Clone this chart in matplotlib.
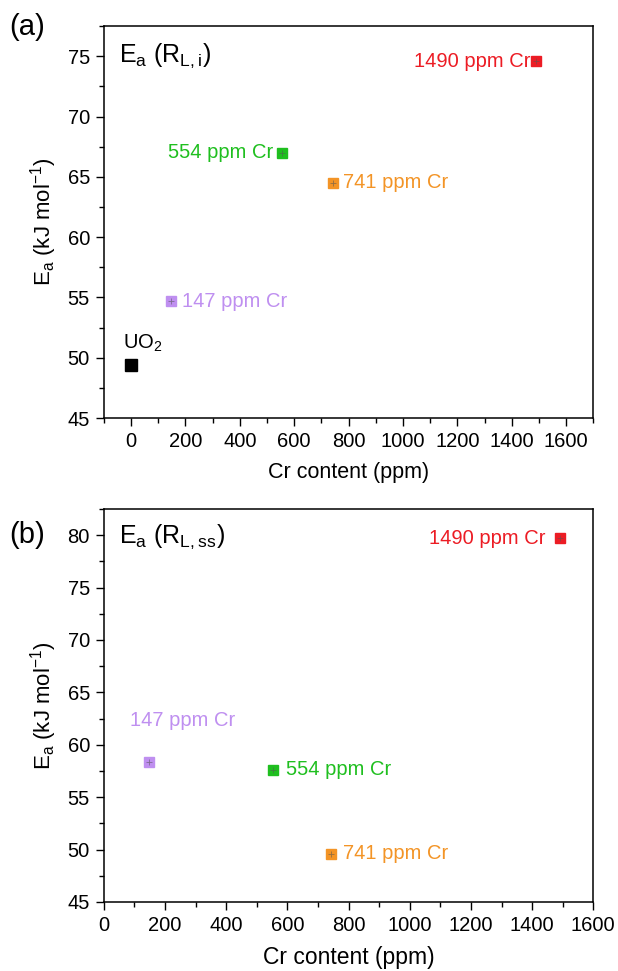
import matplotlib.pyplot as plt
from matplotlib.ticker import MultipleLocator

plt.rcParams['font.family'] = ['Liberation Sans', 'DejaVu Sans']
plt.rcParams['mathtext.default'] = 'regular'

# datos panel (a): Ea (R_L,i)
cr_a = [0, 147, 554, 741, 1490]
ea_a = [49.4, 54.7, 67.0, 64.5, 74.6]
etiquetas_a = ['UO$_2$', '147 ppm Cr', '554 ppm Cr', '741 ppm Cr', '1490 ppm Cr']

# datos panel (b): Ea (R_L,ss)
cr_b = [147, 554, 741, 1490]
ea_b = [58.4, 57.6, 49.6, 79.7]
etiquetas_b = ['147 ppm Cr', '554 ppm Cr', '741 ppm Cr', '1490 ppm Cr']

colores = {0: 'black', 147: '#bf8ff0', 554: '#1fbf1f', 741: '#f39426', 1490: '#ec1c24'}

fig = plt.figure(figsize=(6.18, 9.71), dpi=100)
ax_a = fig.add_axes([0.168, 0.5695, 0.792, 0.4035])
ax_b = fig.add_axes([0.168, 0.0711, 0.792, 0.4047])


def puntos(ax, xs, ys):
    for x, y in zip(xs, ys):
        c = colores[x]
        tam = 9 if x == 0 else 7
        ax.plot(x, y, 's', color=c, ms=tam, zorder=3)
        if x != 0:
            # pequena barra de error dentro del marcador
            ax.plot(x, y, '+', color='#555555', ms=5, mew=0.6, alpha=0.6, zorder=4)


puntos(ax_a, cr_a, ea_a)
puntos(ax_b, cr_b, ea_b)

fs = 14.5
# anotaciones panel (a)
ax_a.text(cr_a[0] - 30, ea_a[0] + 0.9, etiquetas_a[0], color='black', fontsize=fs, ha='left', va='bottom')
ax_a.text(cr_a[1] + 40, ea_a[1], etiquetas_a[1], color=colores[147], fontsize=fs, ha='left', va='center')
ax_a.text(cr_a[2] - 30, ea_a[2], etiquetas_a[2], color=colores[554], fontsize=fs, ha='right', va='center')
ax_a.text(cr_a[3] + 40, ea_a[3], etiquetas_a[3], color=colores[741], fontsize=fs, ha='left', va='center')
ax_a.text(cr_a[4] - 20, ea_a[4], etiquetas_a[4], color=colores[1490], fontsize=fs, ha='right', va='center')

# anotaciones panel (b)
ax_b.text(cr_b[0] - 62, ea_b[0] + 3.9, etiquetas_b[0], color=colores[147], fontsize=fs, ha='left', va='center')
ax_b.text(cr_b[1] + 40, ea_b[1], etiquetas_b[1], color=colores[554], fontsize=fs, ha='left', va='center')
ax_b.text(cr_b[2] + 40, ea_b[2], etiquetas_b[2], color=colores[741], fontsize=fs, ha='left', va='center')
ax_b.text(cr_b[3] - 45, ea_b[3], etiquetas_b[3], color=colores[1490], fontsize=fs, ha='right', va='center')

ax_a.text(0.03, 0.96, 'E$_a$ (R$_{L,i}$)', transform=ax_a.transAxes, fontsize=18, ha='left', va='top')
ax_b.text(0.03, 0.965, 'E$_a$ (R$_{L,ss}$)', transform=ax_b.transAxes, fontsize=18, ha='left', va='top')

ax_a.set_xlim(-100, 1700)
ax_a.set_ylim(45, 77.5)
ax_b.set_xlim(0, 1600)
ax_b.set_ylim(45, 82.5)

for ax, fx in ((ax_a, 15.5), (ax_b, 16.5)):
    ax.xaxis.set_major_locator(MultipleLocator(200))
    ax.xaxis.set_minor_locator(MultipleLocator(100))
    ax.yaxis.set_major_locator(MultipleLocator(5))
    ax.yaxis.set_minor_locator(MultipleLocator(2.5))
    ax.tick_params(which='major', direction='out', length=6, width=1, labelsize=14.5, pad=4)
    ax.tick_params(which='minor', direction='out', length=3.5, width=1)
    for s in ax.spines.values():
        s.set_linewidth(1.1)
    ax.set_xlabel('Cr content (ppm)', fontsize=fx, labelpad=8)
    ax.set_ylabel('E$_a$ (kJ mol$^{-1}$)', fontsize=16, labelpad=6)

fig.text(0.015, 0.972, '(a)', fontsize=21, ha='left', va='center')
fig.text(0.015, 0.449, '(b)', fontsize=21, ha='left', va='center')

plt.savefig('out.png', dpi=100)
